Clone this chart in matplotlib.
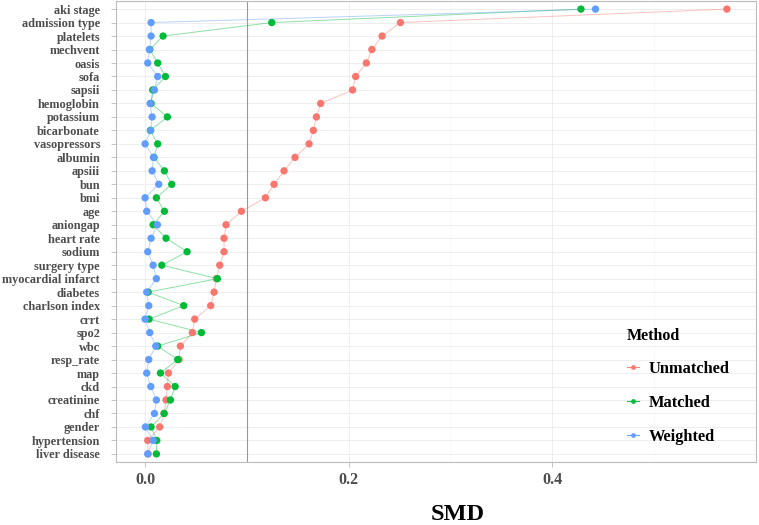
import matplotlib
matplotlib.use("Agg")
import matplotlib.pyplot as plt
from matplotlib.lines import Line2D

variables = ["aki stage", "admission type", "platelets", "mechvent", "oasis", "sofa",
             "sapsii", "hemoglobin", "potassium", "bicarbonate", "vasopressors", "albumin",
             "apsiii", "bun", "bmi", "age", "aniongap", "heart rate", "sodium",
             "surgery type", "myocardial infarct", "diabetes", "charlson index", "crrt",
             "spo2", "wbc", "resp_rate", "map", "ckd", "creatinine", "chf", "gender",
             "hypertension", "liver disease"]

unmatched = [0.572, 0.251, 0.233, 0.223, 0.2175, 0.207, 0.204, 0.1726, 0.1684, 0.1654,
             0.1612, 0.1474, 0.1366, 0.1268, 0.1183, 0.0947, 0.0796, 0.0776, 0.0776,
             0.0734, 0.0701, 0.0678, 0.0645, 0.0488, 0.0465, 0.0347, 0.0334, 0.0229,
             0.0219, 0.0206, 0.0187, 0.0144, 0.0026, 0.0030]

matched = [0.4285, 0.1245, 0.0177, 0.0046, 0.0124, 0.0200, 0.0075, 0.0059, 0.0219, 0.0052,
           0.0124, 0.0088, 0.0190, 0.0262, 0.0111, 0.0190, 0.0079, 0.0206, 0.0413,
           0.0164, 0.0711, 0.0030, 0.0380, 0.0039, 0.0554, 0.0124, 0.0321, 0.0151,
           0.0295, 0.0249, 0.0187, 0.0059, 0.0115, 0.0111]

weighted = [0.4428, 0.0059, 0.0059, 0.0043, 0.0026, 0.0124, 0.0092, 0.0049, 0.0069, 0.0056,
            0.0000, 0.0082, 0.0069, 0.0134, 0.0000, 0.0016, 0.0121, 0.0059, 0.0026,
            0.0079, 0.0111, 0.0016, 0.0036, 0.0000, 0.0046, 0.0105, 0.0036, 0.0016,
            0.0056, 0.0111, 0.0092, 0.0003, 0.0079, 0.0026]

methods = ["Unmatched", "Matched", "Weighted"]
colors = ["#F8766D", "#00BA38", "#619CFF"]
x_ticks = [0.0, 0.2, 0.4]
threshold = 0.1

serif = ["Liberation Serif", "DejaVu Serif"]

fig = plt.figure(figsize=(7.59, 5.25), dpi=100)
ax = fig.add_axes([116 / 759, 1 - 462 / 525, (756 - 116) / 759, (462 - 1) / 525])

n = len(variables)
ypos = [n - 1 - i for i in range(n)]

for vals, col in zip([unmatched, matched, weighted], colors):
    ax.plot(vals, ypos, color=col, lw=0.7, alpha=0.45, zorder=2)
for vals, col in zip([unmatched, matched, weighted], colors):
    ax.scatter(vals, ypos, s=28, color=col, edgecolors="none", zorder=3)

ax.axvline(threshold, color="#999999", lw=0.8, zorder=1.5)

allv = unmatched + matched + weighted
lo, hi = min(allv), max(allv)
pad = (hi - lo) * 0.05
ax.set_xlim(lo - pad, hi + pad)
ax.set_ylim(-0.6, n - 0.4)

ax.set_xticks(x_ticks)
ax.set_xticklabels([f"{t:.1f}" for t in x_ticks])
ax.set_xticks([0.1, 0.3, 0.5], minor=True)
ax.set_yticks(ypos)
ax.set_yticklabels(variables)

ax.grid(True, which="major", color="#EBEBEB", lw=0.6, zorder=0)
ax.grid(True, which="minor", axis="x", color="#F3F3F3", lw=0.4, zorder=0)
ax.set_axisbelow(True)
ax.tick_params(axis="x", which="minor", length=0)
ax.tick_params(axis="both", which="major", length=3.5, color="#BBBBBB", width=0.6)
ax.tick_params(axis="y", pad=8)
ax.tick_params(axis="x", pad=4)

for sp in ax.spines.values():
    sp.set_color("#BBBBBB")
    sp.set_linewidth(0.8)

for lab in ax.get_yticklabels():
    lab.set_fontfamily(serif)
    lab.set_fontweight("bold")
    lab.set_fontsize(8.8)
    lab.set_color("#4D4D4D")
for lab in ax.get_xticklabels():
    lab.set_fontfamily(serif)
    lab.set_fontweight("bold")
    lab.set_fontsize(11.5)
    lab.set_color("#4D4D4D")

fig.text(458 / 759, 1 - 515 / 525, "SMD", fontfamily=serif, fontweight="bold",
         fontsize=17.5, color="black", ha="center", va="center")

handles = [Line2D([0], [0], color=c, lw=0.8, marker="o", markersize=2.5, alpha=0.9) for c in colors]
leg = ax.legend(handles, methods, title="Method", loc="lower left",
                bbox_to_anchor=((627 - 116) / 640, (462 - 445) / 461), frameon=False,
                handlelength=0.75, handletextpad=0.55, labelspacing=1.1,
                borderaxespad=0.0, borderpad=0.0,
                prop={"family": serif, "weight": "bold", "size": 11.8})
leg.get_title().set_fontfamily(serif)
leg.get_title().set_fontweight("bold")
leg.get_title().set_fontsize(11.5)
leg._legend_box.align = "left"
leg._legend_box.sep = 12

fig.savefig("out.png", dpi=100)
